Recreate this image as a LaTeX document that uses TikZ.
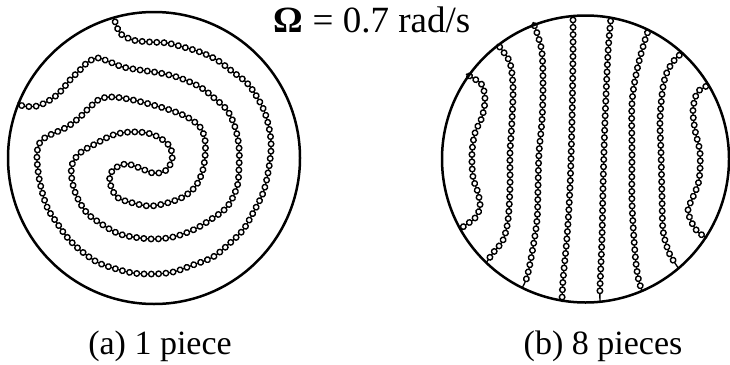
\documentclass[tikz,border=0pt]{standalone}
\usepackage{fontspec}
\setmainfont{Liberation Serif}
\usetikzlibrary{decorations.markings}
\tikzset{
  rim/.style={line width=2.5pt},
  beadchain/.style={line width=1.3pt, postaction={decorate},
    decoration={markings, mark=between positions 4pt and -4pt step 7.3pt with {\draw[line width=1.4pt, fill=white] (0,0) circle (2.75pt);}}},
  lbl/.style={anchor=base, inner sep=0pt, font=\fontsize{34}{40}\selectfont},
  toplbl/.style={anchor=base, inner sep=0pt, font=\fontsize{37}{42}\selectfont}
}
\begin{document}
\begin{tikzpicture}[x=1pt,y=-1pt]
\useasboundingbox (0,0) rectangle (730,364);
\coordinate (L) at (154,158);
\coordinate (R) at (585.5,159);
% left: one piece
\draw[beadchain] plot[smooth, tension=0.55] coordinates {(114,18) (120,33) (133,40) (150,42) (167,43) (183,47) (200,52) (217,60) (233,72) (247,83) (257,97) (265,113) (270,133) (271,150) (268,173) (263,193) (253,213) (243,230) (230,243) (213,257) (193,265) (173,272) (153,274) (133,273) (113,268) (97,262) (80,250) (67,237) (57,223) (47,207) (40,183) (37,160) (38,147) (42,140) (50,135) (67,127) (80,117) (90,107) (100,99) (113,97) (133,100) (153,105) (170,110) (187,117) (200,127) (205,140) (205,157) (202,173) (195,187) (183,197) (167,203) (150,206) (133,203) (117,197) (110,183) (111,173) (117,167) (127,164) (140,168) (153,173) (165,171) (172,160) (170,147) (160,138) (147,133) (130,132) (113,135) (97,143) (80,153) (72,165) (72,180) (77,197) (87,213) (100,223) (117,233) (133,237) (153,239) (173,237) (193,230) (210,220) (227,207) (237,187) (239,167) (239,147) (235,127) (227,110) (213,97) (200,87) (180,78) (160,73) (140,70) (123,67) (110,62) (98,58) (88,62) (80,70) (70,80) (60,92) (50,100) (37,106) (23,106) (18,102)};
% right: eight pieces
\draw[beadchain] plot[smooth, tension=0.55] coordinates {(466,74) (473,78) (482,85) (485,100) (482,117) (475,133) (472,153) (473,177) (478,193) (480,207) (475,218) (467,224) (460,229)};
\draw[beadchain] plot[smooth, tension=0.55] coordinates {(497,44) (502,50) (510,63) (513,87) (512,120) (510,153) (510,187) (508,220) (503,240) (493,253) (486,263)};
\draw[beadchain] plot[smooth, tension=0.55] coordinates {(533,22) (537,33) (542,53) (543,87) (542,120) (539,153) (538,187) (537,220) (532,253) (527,277) (522,288)};
\draw[beadchain] plot[smooth, tension=0.55] coordinates {(573,16) (573,53) (572,120) (570,187) (567,237) (563,280) (562,302)};
\draw[beadchain] plot[smooth, tension=0.55] coordinates {(611,17) (608,53) (605,120) (603,187) (602,237) (600,287) (600,302)};
\draw[beadchain] plot[smooth, tension=0.55] coordinates {(649,29) (645,40) (637,70) (632,103) (632,153) (632,203) (635,253) (638,277) (642,291)};
\draw[beadchain] plot[smooth, tension=0.55] coordinates {(683,54) (677,57) (668,70) (663,87) (660,120) (661,153) (662,197) (663,230) (668,250) (673,260) (679,269)};
\draw[beadchain] plot[smooth, tension=0.55] coordinates {(709,84) (705,87) (697,93) (693,110) (695,130) (700,153) (699,180) (693,197) (688,210) (692,223) (698,232) (707,238)};
% rims
\draw[rim] (L) circle (146pt);
\draw[rim] (R) circle (143.5pt);
% texts
\node[toplbl] (omega) at (372,32) {\textbf{Ω} = 0.7 rad/s};
\node[lbl] (capa) at (160,354) {(a) 1 piece};
\node[lbl] (capb) at (603,354) {(b) 8 pieces};
\end{tikzpicture}
\end{document}
